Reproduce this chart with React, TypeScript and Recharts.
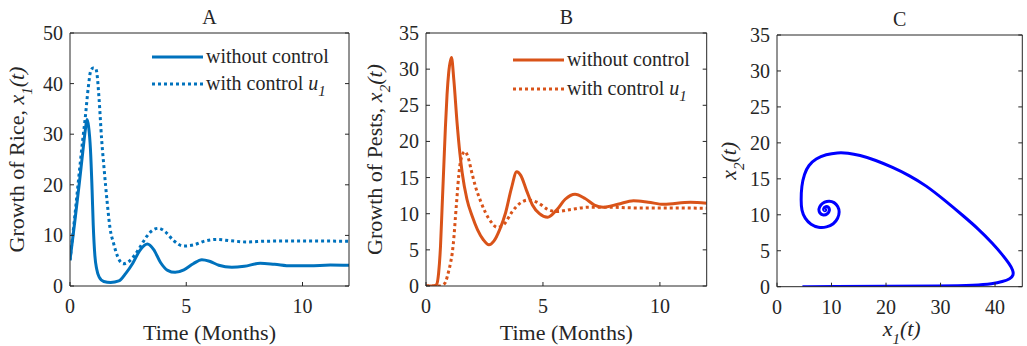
import React from 'react';
import { LineChart, Line, XAxis, YAxis, Legend } from 'recharts';

const FONT = "'Liberation Serif', 'Times New Roman', Times, serif";
const AX = '#262626';
const BLUE = '#0072BD';
const ORANGE = '#D95319';
const PURE_BLUE = '#0000FF';

// ---------- Panel A: Growth of Rice x1(t) ----------
const riceTimeNoCtrl = [0, 0.2, 0.4, 0.55, 0.65, 0.73, 0.8, 0.88, 0.95, 1.0, 1.07, 1.15, 1.25, 1.45, 1.75, 2.1, 2.4, 2.7, 3.0, 3.33, 3.6, 3.9, 4.2, 4.52, 4.9, 5.3, 5.67, 6.0, 6.4, 6.96, 7.5, 8.18, 8.8, 9.5, 10.3, 11.2, 12];
const riceNoCtrl = [5.1, 12.5, 20.3, 26.5, 30.5, 32.9, 31.5, 27, 19, 12, 6, 3.3, 1.8, 0.9, 0.7, 1.0, 2.5, 4.5, 7.0, 8.3, 7.2, 4.6, 3.1, 2.7, 3.2, 4.4, 5.2, 4.9, 4.1, 3.7, 3.9, 4.5, 4.3, 4.0, 4.0, 4.15, 4.1];
const riceTimeCtrl = [0, 0.2, 0.4, 0.55, 0.65, 0.79, 0.89, 1.0, 1.1, 1.15, 1.25, 1.36, 1.47, 1.6, 1.72, 1.87, 2.05, 2.3, 2.55, 2.8, 3.0, 3.3, 3.55, 3.8, 4.1, 4.45, 4.88, 5.3, 5.8, 6.3, 6.9, 7.6, 8.4, 9.5, 12];
const riceCtrl = [5.1, 13.5, 22.5, 29, 33, 39.4, 42.5, 43.1, 43.0, 42.3, 37, 29, 23, 16.5, 11.5, 8.5, 5.8, 4.4, 4.9, 6.2, 7.6, 9.8, 11.0, 11.4, 10.7, 9.0, 7.9, 8.1, 8.9, 9.2, 8.95, 8.7, 8.85, 8.9, 8.85];

// ---------- Panel B: Growth of Pests x2(t) ----------
const pestTimeNoCtrl = [0, 0.3, 0.45, 0.54, 0.62, 0.69, 0.76, 0.83, 0.9, 0.97, 1.09, 1.19, 1.33, 1.45, 1.55, 1.75, 1.98, 2.2, 2.45, 2.69, 2.9, 3.15, 3.4, 3.65, 3.88, 4.05, 4.3, 4.55, 4.85, 5.2, 5.58, 5.95, 6.37, 6.8, 7.2, 7.58, 8.2, 8.87, 9.5, 10.16, 11.3, 12];
const pestNoCtrl = [0, 0, 0.2, 1.8, 5.5, 11, 16.5, 22, 26.5, 29.5, 31.6, 28.5, 22.5, 18.3, 15.6, 12, 9.6, 7.8, 6.4, 5.7, 6.2, 7.8, 10.1, 13.5, 15.8, 15.3, 13.2, 11.2, 10.0, 9.5, 10.5, 12.0, 12.7, 12.1, 11.2, 10.9, 11.3, 11.8, 11.6, 11.3, 11.6, 11.45];
const pestTimeCtrl = [0, 0.6, 0.75, 0.83, 0.95, 1.05, 1.12, 1.2, 1.26, 1.33, 1.4, 1.5, 1.66, 1.8, 1.95, 2.12, 2.35, 2.55, 2.8, 3.05, 3.35, 3.69, 4.0, 4.38, 4.8, 5.2, 5.6, 6.2, 7.0, 7.8, 9, 10.5, 12];
const pestCtrl = [0, 0, 0.2, 0.5, 1.8, 3.2, 4.5, 7, 9.6, 12.5, 15.3, 17.6, 18.6, 17.8, 15.8, 13.7, 11.6, 10.1, 8.8, 8.1, 8.6, 10.3, 11.4, 11.9, 11.5, 10.6, 10.3, 10.6, 10.9, 10.9, 10.8, 10.8, 10.75];

// ---------- Panel C: phase plane x1 vs x2 ----------
const phaseX1 = [4.66, 10, 20, 30, 36.5, 39.5, 41.4, 42.8, 43.4, 43.3, 42.6, 41.3, 39.6, 37, 34.1, 30.8, 27.3, 24.2, 21.2, 18.1, 15.1, 13.0, 11.1, 9.0, 7.1, 5.8, 5.0, 4.5, 4.4, 4.5, 5.1, 6.2, 7.6, 9.1, 10.4, 11.2, 11.5, 11.2, 10.5, 9.6, 8.7, 8.0, 7.6, 7.8, 8.5, 9.3, 9.7, 9.5, 8.9, 8.5, 8.6, 9.0, 8.9, 8.75];
const phaseX2 = [0, 0.02, 0.05, 0.1, 0.2, 0.4, 0.7, 1.1, 1.6, 2.3, 3.2, 4.5, 6.0, 8.0, 9.9, 12.0, 14.1, 15.5, 16.6, 17.6, 18.3, 18.6, 18.65, 18.4, 17.8, 16.9, 15.7, 14.0, 12.0, 10.6, 9.5, 8.6, 8.2, 8.25, 8.7, 9.5, 10.4, 11.2, 11.75, 11.95, 11.8, 11.4, 10.8, 10.2, 9.9, 10.1, 10.6, 11.1, 11.2, 10.9, 10.55, 10.6, 10.8, 10.75];

// tick labels
const timeTicks = [0, 5, 10];
const riceTicks = [0, 10, 20, 30, 40, 50];
const pestTicks = [0, 5, 10, 15, 20, 25, 30, 35];
const phaseXTicks = [0, 10, 20, 30, 40];
const phaseYTicks = [0, 5, 10, 15, 20, 25, 30, 35];

const zipTime = (t: number[], v: number[]) => t.map((tt, i) => ({ t: tt, v: v[i] }));
const riceNoCtrlData = zipTime(riceTimeNoCtrl, riceNoCtrl);
const riceCtrlData = zipTime(riceTimeCtrl, riceCtrl);
const pestNoCtrlData = zipTime(pestTimeNoCtrl, pestNoCtrl);
const pestCtrlData = zipTime(pestTimeCtrl, pestCtrl);
const phaseData = phaseX1.map((x, i) => ({ x1: x, x2: phaseX2[i] }));

const TL = 4; // inward tick length
const TFS = 20; // tick font size
const LFS = 22; // label font size

const LeftTick = (p: any) => (
  <g>
    <line x1={p.x} x2={p.x + TL} y1={p.y} y2={p.y} stroke={AX} strokeWidth={1} />
    <text x={p.x - 7} y={p.y + 7} textAnchor="end" fontFamily={FONT} fontSize={TFS} fill={AX}>{p.payload.value}</text>
  </g>
);
const RightTick = (p: any) => (
  <line x1={p.x - TL} x2={p.x} y1={p.y} y2={p.y} stroke={AX} strokeWidth={1} />
);
const BottomTick = (p: any) => (
  <g>
    <line x1={p.x} x2={p.x} y1={p.y - TL} y2={p.y} stroke={AX} strokeWidth={1} />
    <text x={p.x} y={p.y + 27} textAnchor="middle" fontFamily={FONT} fontSize={TFS} fill={AX}>{p.payload.value}</text>
  </g>
);
const TopTick = (p: any) => (
  <line x1={p.x} x2={p.x} y1={p.y} y2={p.y + TL} stroke={AX} strokeWidth={1} />
);

const titleLabel = (title: string) => (p: any) => {
  const vb = p.viewBox || {};
  return (
    <text x={vb.x + vb.width / 2} y={vb.y - 8} textAnchor="middle" fontFamily={FONT} fontSize={20} fill={AX}>{title}</text>
  );
};

const yLabel = (prefix: string, sub: string, gap: number) => (p: any) => {
  const vb = p.viewBox || {};
  const bx = vb.x + vb.width - gap;
  const cy = vb.y + vb.height / 2;
  return (
    <text transform={`translate(${bx},${cy}) rotate(-90)`} textAnchor="middle" fontFamily={FONT} fontSize={LFS} fill={AX}>
      {prefix ? <tspan>{prefix}</tspan> : null}
      <tspan fontStyle="italic">x</tspan>
      <tspan fontStyle="italic" fontSize={15} dy={8}>{sub}</tspan>
      <tspan fontStyle="italic" dy={-8}>(t)</tspan>
    </text>
  );
};

const xLabelPlain = (txt: string, off: number) => (p: any) => {
  const vb = p.viewBox || {};
  return (
    <text x={vb.x + vb.width / 2} y={vb.y + off} textAnchor="middle" fontFamily={FONT} fontSize={LFS} fill={AX}>{txt}</text>
  );
};
const xLabelMath = (sub: string, off: number) => (p: any) => {
  const vb = p.viewBox || {};
  return (
    <text x={vb.x + vb.width / 2 + 2} y={vb.y + off} textAnchor="middle" fontFamily={FONT} fontSize={LFS} fill={AX}>
      <tspan fontStyle="italic">x</tspan>
      <tspan fontStyle="italic" fontSize={15} dy={8}>{sub}</tspan>
      <tspan fontStyle="italic" dy={-8}>(t)</tspan>
    </text>
  );
};

const LegendBox = ({ color, rowH }: { color: string; rowH: number }) => (
  <div style={{ fontFamily: FONT, fontSize: 20, color: AX }}>
    <div style={{ display: 'flex', alignItems: 'center', height: rowH }}>
      <svg width={51} height={6} style={{ display: 'block' }}>
        <line x1={0} x2={51} y1={3} y2={3} stroke={color} strokeWidth={3} />
      </svg>
      <span style={{ marginLeft: 3, whiteSpace: 'nowrap' }}>without control</span>
    </div>
    <div style={{ display: 'flex', alignItems: 'center', height: rowH }}>
      <svg width={51} height={6} style={{ display: 'block' }}>
        <line x1={0} x2={51} y1={3} y2={3} stroke={color} strokeWidth={3} strokeDasharray="3 3" />
      </svg>
      <span style={{ marginLeft: 3, whiteSpace: 'nowrap' }}>
        with control <i>u</i>
        <i style={{ fontSize: 15, position: 'relative', top: 6 }}>1</i>
      </span>
    </div>
  </div>
);

const axisLine = { stroke: AX, strokeWidth: 1 };

export default function App() {
  return (
    <div style={{ position: 'absolute', left: 0, top: 0, width: 1027, height: 346, background: '#fff', overflow: 'hidden' }}>
      {/* Panel A */}
      <div style={{ position: 'absolute', left: 0, top: 0 }}>
        <LineChart width={360} height={346} margin={{ top: 32, right: 10, bottom: 0, left: 0 }}>
          <XAxis dataKey="t" type="number" domain={[0, 12]} ticks={timeTicks} allowDataOverflow height={60}
            tickSize={0} tickMargin={0} tickLine={false} axisLine={axisLine} tick={BottomTick} interval={0}
            label={{ content: xLabelPlain('Time (Months)', 54) }} />
          <YAxis type="number" domain={[0, 50]} ticks={riceTicks} allowDataOverflow width={70}
            tickSize={0} tickMargin={0} tickLine={false} axisLine={axisLine} tick={LeftTick} interval={0}
            label={{ content: yLabel('Growth of Rice, ', '1', 46) }} />
          <XAxis xAxisId="top" orientation="top" type="number" domain={[0, 12]} ticks={timeTicks} allowDataOverflow
            height={1} tickSize={0} tickMargin={0} tickLine={false} axisLine={axisLine} tick={TopTick} interval={0}
            label={{ content: titleLabel('A') }} />
          <YAxis yAxisId="right" orientation="right" type="number" domain={[0, 50]} ticks={riceTicks} allowDataOverflow
            width={1} tickSize={0} tickMargin={0} tickLine={false} axisLine={axisLine} tick={RightTick} interval={0} />
          <Line data={riceCtrlData} dataKey="v" type="monotone" stroke={BLUE} strokeWidth={3} strokeDasharray="3 3" dot={false} isAnimationActive={false} />
          <Line data={riceNoCtrlData} dataKey="v" type="monotone" stroke={BLUE} strokeWidth={3} dot={false} isAnimationActive={false} />
          <Legend layout="horizontal" verticalAlign="middle" align="center"
            wrapperStyle={{ left: 152, top: 43, width: 'auto', height: 'auto' }}
            content={() => <LegendBox color={BLUE} rowH={27} />} />
        </LineChart>
      </div>

      {/* Panel B */}
      <div style={{ position: 'absolute', left: 356, top: 0 }}>
        <LineChart width={360} height={346} margin={{ top: 32, right: 8.3, bottom: 0, left: 0 }}>
          <XAxis dataKey="t" type="number" domain={[0, 12]} ticks={timeTicks} allowDataOverflow height={60}
            tickSize={0} tickMargin={0} tickLine={false} axisLine={axisLine} tick={BottomTick} interval={0}
            label={{ content: xLabelPlain('Time (Months)', 54) }} />
          <YAxis type="number" domain={[0, 35]} ticks={pestTicks} allowDataOverflow width={70}
            tickSize={0} tickMargin={0} tickLine={false} axisLine={axisLine} tick={LeftTick} interval={0}
            label={{ content: yLabel('Growth of Pests, ', '2', 44) }} />
          <XAxis xAxisId="top" orientation="top" type="number" domain={[0, 12]} ticks={timeTicks} allowDataOverflow
            height={1} tickSize={0} tickMargin={0} tickLine={false} axisLine={axisLine} tick={TopTick} interval={0}
            label={{ content: titleLabel('B') }} />
          <YAxis yAxisId="right" orientation="right" type="number" domain={[0, 35]} ticks={pestTicks} allowDataOverflow
            width={1} tickSize={0} tickMargin={0} tickLine={false} axisLine={axisLine} tick={RightTick} interval={0} />
          <Line data={pestCtrlData} dataKey="v" type="monotone" stroke={ORANGE} strokeWidth={3} strokeDasharray="3 3" dot={false} isAnimationActive={false} />
          <Line data={pestNoCtrlData} dataKey="v" type="monotone" stroke={ORANGE} strokeWidth={3} dot={false} isAnimationActive={false} />
          <Legend layout="horizontal" verticalAlign="middle" align="center"
            wrapperStyle={{ left: 157, top: 45, width: 'auto', height: 'auto' }}
            content={() => <LegendBox color={ORANGE} rowH={29} />} />
        </LineChart>
      </div>

      {/* Panel C */}
      <div style={{ position: 'absolute', left: 707, top: 0 }}>
        <LineChart width={320} height={346} margin={{ top: 34, right: 3.7, bottom: 0, left: 0 }}>
          <XAxis dataKey="x1" type="number" domain={[0, 45]} ticks={phaseXTicks} allowDataOverflow height={59.3}
            tickSize={0} tickMargin={0} tickLine={false} axisLine={axisLine} tick={BottomTick} interval={0}
            label={{ content: xLabelMath('1', 49) }} />
          <YAxis type="number" domain={[0, 35]} ticks={phaseYTicks} allowDataOverflow width={70}
            tickSize={0} tickMargin={0} tickLine={false} axisLine={axisLine} tick={LeftTick} interval={0}
            label={{ content: yLabel('', '2', 41) }} />
          <XAxis xAxisId="top" orientation="top" type="number" domain={[0, 45]} ticks={phaseXTicks} allowDataOverflow
            height={1} tickSize={0} tickMargin={0} tickLine={false} axisLine={axisLine} tick={TopTick} interval={0}
            label={{ content: titleLabel('C') }} />
          <YAxis yAxisId="right" orientation="right" type="number" domain={[0, 35]} ticks={phaseYTicks} allowDataOverflow
            width={1} tickSize={0} tickMargin={0} tickLine={false} axisLine={axisLine} tick={RightTick} interval={0} />
          <Line data={phaseData} dataKey="x2" type="basis" stroke={PURE_BLUE} strokeWidth={3} dot={false} isAnimationActive={false} />
        </LineChart>
      </div>
    </div>
  );
}
